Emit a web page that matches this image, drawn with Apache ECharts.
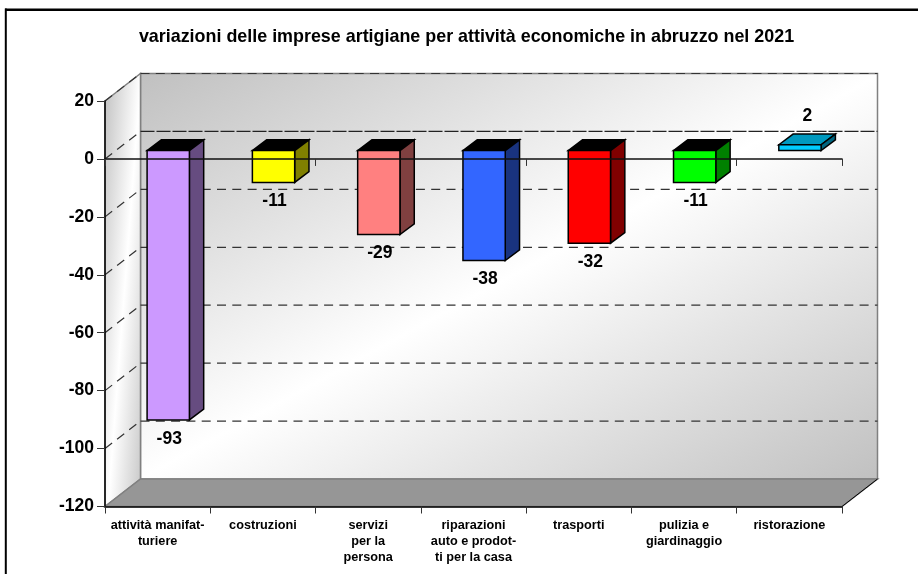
<!DOCTYPE html>
<html>
<head>
<meta charset="utf-8">
<title>variazioni imprese artigiane</title>
<style>
html, body { margin: 0; padding: 0; background: #fff; }
#chart-div { width: 918px; height: 574px; }
</style>
<script src="https://cdn.jsdelivr.net/npm/echarts@6/dist/echarts.min.js"></script>
</head>
<body>
<div id="chart-div"></div>
<script>
// data
const g_categories = [
	"attività manifat-\nturiere",
	"costruzioni",
	"servizi\nper la\npersona",
	"riparazioni\nauto e prodot-\nti per la casa",
	"trasporti",
	"pulizia e\ngiardinaggio",
	"ristorazione"
];
const g_values = [-93, -11, -29, -38, -32, -11, 2];
const g_y_ticks = [20, 0, -20, -40, -60, -80, -100, -120];
const g_title = "variazioni delle imprese artigiane per attività economiche in abruzzo nel 2021";

// fake 3D look
const g_front_colors = ["#cc99ff", "#ffff00", "#ff8080", "#3366ff", "#ff0000", "#00ff00", "#00ccff"];
const g_side_colors = ["#664c80", "#808000", "#804040", "#19337f", "#800000", "#008000", "#006680"];
const g_positive_top = "#0099bf";
const WALL_DX = 35.5;
const WALL_DY = 27.5;
const BAR_DX = 14.3;
const BAR_DY = 10.7;
const BAR_W = 42.3;
const FONT = "Liberation Sans, Arial, sans-serif";

function gradient(x2, y2) {
	return {
		type: "linear", x: 0, y: 0, x2: x2, y2: y2,
		colorStops: [
			{ offset: 0, color: "#c0c0c0" },
			{ offset: 0.5, color: "#ffffff" },
			{ offset: 1, color: "#c0c0c0" }
		]
	};
}

// back wall, left wall and floor
function render_walls(params, api) {
	const cs = params.coordSys;
	const l = cs.x, t = cs.y, r = cs.x + cs.width, b = cs.y + cs.height;
	const edge = { stroke: "#808080", lineWidth: 1.5 };
	return {
		type: "group",
		children: [
			{
				type: "polygon",
				shape: { points: [[l + WALL_DX, t - WALL_DY], [r + WALL_DX, t - WALL_DY], [r + WALL_DX, b - WALL_DY], [l + WALL_DX, b - WALL_DY]] },
				style: Object.assign({ fill: gradient(0.463, 1.537) }, edge)
			},
			{
				type: "polygon",
				shape: { points: [[l, t], [l + WALL_DX, t - WALL_DY], [l + WALL_DX, b - WALL_DY], [l, b]] },
				style: Object.assign({ fill: gradient(1.99, 0.013) }, edge)
			},
			{
				type: "polygon",
				shape: { points: [[l, b], [r, b], [r + WALL_DX, b - WALL_DY], [l + WALL_DX, b - WALL_DY]] },
				style: Object.assign({ fill: "#969696" }, edge)
			},
			{
				type: "line",
				shape: { x1: r, y1: b, x2: r + WALL_DX, y2: b - WALL_DY },
				style: { stroke: "#000", lineWidth: 1 }
			}
		]
	};
}

// dashed grid lines on both walls
function render_gridline(params, api) {
	const cs = params.coordSys;
	const y = api.coord([0, api.value(0)])[1];
	const l = cs.x, r = cs.x + cs.width;
	const value = api.value(0);
	const dash = { stroke: "#333", lineWidth: 1.2, lineDash: [9, 6.3] };
	if (value === -120)
		return { type: "group", children: [] };
	return {
		type: "group",
		children: [
			{
				type: "line",
				shape: { x1: l, y1: y, x2: l + WALL_DX, y2: y - WALL_DY },
				style: dash
			},
			{
				type: "line",
				shape: { x1: l + WALL_DX, y1: y - WALL_DY, x2: r + WALL_DX, y2: y - WALL_DY },
				style: value === 0 ? { stroke: "#222", lineWidth: 1.2, lineDash: [14, 2] } : dash
			}
		]
	};
}

function render_bar(params, api) {
	const idx = api.value(0);
	const val = api.value(1);
	const zero = api.coord([idx, 0]);
	const end = api.coord([idx, val]);
	const off_x = (WALL_DX - BAR_DX) / 2;
	const off_y = (WALL_DY - BAR_DY) / 2;
	const x1 = zero[0] + off_x - BAR_W / 2;
	const x2 = x1 + BAR_W;
	const top = Math.min(zero[1], end[1]) - off_y;
	const bottom = Math.max(zero[1], end[1]) - off_y;
	const line = { stroke: "#000", lineWidth: 1.5 };
	const label_x = val < 0 ? (x1 + x2) / 2 + 1 : (x1 + x2) / 2 + 7.5;
	const label_y = val < 0 ? bottom + 19 : top - BAR_DY - 17.5;
	return {
		type: "group",
		children: [
			{
				type: "polygon",
				shape: { points: [[x1, top], [x1 + BAR_DX, top - BAR_DY], [x2 + BAR_DX, top - BAR_DY], [x2, top]] },
				style: Object.assign({ fill: val < 0 ? "#000" : g_positive_top }, line)
			},
			{
				type: "polygon",
				shape: { points: [[x2, top], [x2 + BAR_DX, top - BAR_DY], [x2 + BAR_DX, bottom - BAR_DY], [x2, bottom]] },
				style: Object.assign({ fill: g_side_colors[idx] }, line)
			},
			{
				type: "rect",
				shape: { x: x1, y: top, width: BAR_W, height: bottom - top },
				style: Object.assign({ fill: g_front_colors[idx] }, line)
			},
			{
				type: "text",
				style: {
					text: String(val),
					x: label_x,
					y: label_y,
					fill: "#000",
					font: "bold 17.5px " + FONT,
					align: "center",
					verticalAlign: "middle"
				}
			}
		]
	};
}

const g_chart = echarts.init(document.getElementById("chart-div"), null, { renderer: "canvas" });

g_chart.setOption({
	animation: false,
	backgroundColor: "#fff",
	title: {
		text: g_title,
		left: 461.5,
		top: 23,
		textAlign: "center",
		textStyle: { fontFamily: FONT, fontWeight: "bold", fontSize: 17.9, color: "#000" }
	},
	grid: { left: 105, top: 101, width: 737, height: 405.5 },
	xAxis: [
		{
			type: "category",
			data: g_categories,
			position: "bottom",
			z: 10,
			axisLine: { onZero: false, lineStyle: { color: "#000", width: 1.5 } },
			axisTick: { show: true, length: 7, lineStyle: { color: "#333" } },
			axisLabel: {
				interval: 0,
				margin: 11,
				lineHeight: 16,
				fontFamily: FONT,
				fontWeight: "bold",
				fontSize: 12.7,
				color: "#000",
				align: "center",
				verticalAlign: "top"
			}
		},
		{
			// zero line, runs across the bars
			type: "category",
			data: g_categories,
			position: "bottom",
			z: 10,
			axisLine: { onZero: true, lineStyle: { color: "#111", width: 1.5 } },
			axisTick: { show: true, length: 7, lineStyle: { color: "#333" } },
			axisLabel: { show: false }
		}
	],
	yAxis: {
		type: "value",
		min: -120,
		max: 20,
		interval: 20,
		z: 10,
		splitLine: { show: false },
		axisLine: { show: true, lineStyle: { color: "#000", width: 1.5 } },
		axisTick: { show: true, length: 8, lineStyle: { color: "#333" } },
		axisLabel: {
			margin: 11,
			fontFamily: FONT,
			fontWeight: "bold",
			fontSize: 17.5,
			color: "#000"
		}
	},
	series: [
		{
			type: "custom",
			z: 1,
			silent: true,
			renderItem: render_walls,
			data: [0]
		},
		{
			type: "custom",
			z: 1,
			silent: true,
			renderItem: render_gridline,
			encode: { y: 0 },
			data: g_y_ticks.map(function (v) { return [v]; })
		},
		{
			type: "custom",
			z: 2,
			renderItem: render_bar,
			encode: { x: 0, y: 1 },
			data: g_values.map(function (v, i) { return [i, v]; })
		}
	],
	graphic: [
		{ type: "rect", z: 20, shape: { x: 5, y: 8.5, width: 913, height: 2.5 }, style: { fill: "#000" } },
		{ type: "rect", z: 20, shape: { x: 4.8, y: 8.5, width: 2, height: 566 }, style: { fill: "#000" } }
	]
});

window.addEventListener("resize", g_chart.resize);
</script>
</body>
</html>
